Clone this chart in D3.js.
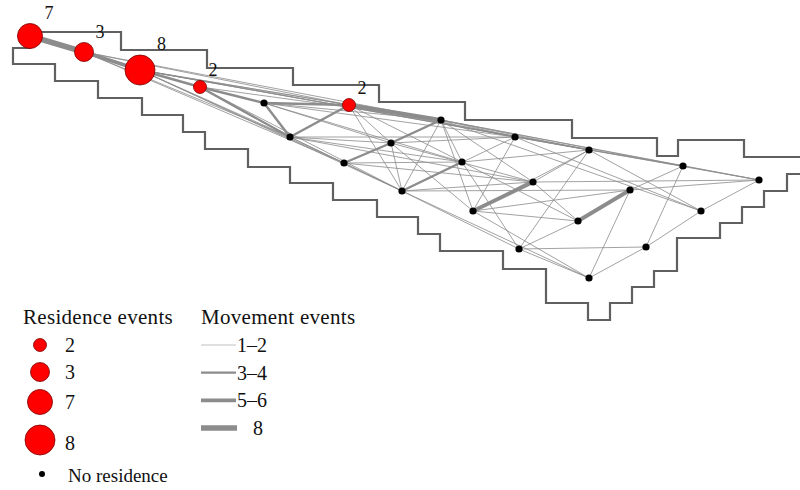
<!DOCTYPE html>
<html>
<head>
<meta charset="utf-8">
<style>
     body {
          margin: 0;
          background: #fff;
     }
     svg {
          display: block;
     }
     .outline {
          fill: none;
          stroke: #606060;
          stroke-width: 2.2;
     }
     .edge {
          stroke: #8c8c8c;
          stroke-linecap: butt;
     }
     .res {
          fill: #ff0000;
          stroke: #7a0000;
          stroke-width: 0.8;
     }
     .nores {
          fill: #000;
     }
</style>
</head>
<body>
<script src="https://cdn.jsdelivr.net/npm/d3@7"></script>
<script>

     // region outline (map units), staircase boundary
     var outlineX = [13, 30, 30, 121, 121, 207, 207, 293, 293, 379, 379, 465, 465, 572, 572, 657, 657, 678, 678, 744, 744, 815,
                     815, 787, 787, 764, 764, 742, 742, 720, 720, 677, 677, 654, 654, 632, 632, 610, 610, 588, 588, 546, 546,
                     503, 503, 440, 440, 418, 418, 377, 377, 333, 333, 290, 290, 248, 248, 205, 205, 183, 183, 142, 142, 98,
                     98, 55, 55, 13];
     var outlineY = [48, 48, 32, 32, 50, 50, 68, 68, 85, 85, 102, 102, 120, 120, 138, 138, 156, 156, 140, 140, 157, 157,
                     174, 174, 191, 191, 207, 207, 223, 223, 238, 238, 271, 271, 287, 287, 303, 303, 320, 320, 303, 303, 269,
                     269, 251, 251, 234, 234, 217, 217, 200, 200, 183, 183, 167, 167, 149, 149, 132, 132, 115, 115, 98, 98,
                     81, 81, 64, 64];

     // sites
     var nodeIds = ["r7", "r3", "r8", "r2a", "r2b", "a", "b", "c", "d", "e", "f", "g", "h", "i", "j", "k", "l", "m", "n", "o", "p", "q", "r", "s"];
     var nodeX = [30, 84, 140, 200, 349, 264, 290, 344, 391, 441, 515, 589, 683, 759, 462, 402, 533, 473, 630, 578, 701, 519, 646, 589];
     var nodeY = [36, 52, 70, 87, 105, 103, 137, 163, 143, 120, 137, 150, 166, 180, 162, 191, 182, 211, 190, 221, 211, 249, 247, 278];
     var residence = [7, 3, 8, 2, 2, 0, 0, 0, 0, 0, 0, 0, 0, 0, 0, 0, 0, 0, 0, 0, 0, 0, 0, 0];

     // movement events between sites
     var edgeFrom = ["r7", "r3", "r8", "r2a", "a", "r2b", "a", "b", "d", "c", "k", "m", "o", "r2a",
                     "r7", "r3", "r3", "r8", "r8", "r8", "r8", "r8", "r3", "r8", "r8", "r3", "r8", "r2a", "r2a",
                     "a", "a", "a", "a", "b", "b", "b", "b", "b", "b", "r2b", "r2b", "r2b", "r2b", "r2b",
                     "c", "c", "c", "d", "d", "d", "d", "e", "e", "e", "e", "e", "e", "e", "e",
                     "f", "f", "f", "f", "j", "j", "j", "k", "k", "k", "k", "m", "m", "m", "m",
                     "l", "l", "l", "q", "q", "q", "q", "s", "s", "r", "r", "p", "g", "n", "n", "g", "h", "e"];
     var edgeTo   = ["r3", "r8", "r2a", "a", "r2b", "e", "b", "r2b", "e", "d", "j", "l", "n", "b",
                     "r8", "e", "r2b", "r2b", "e", "g", "h", "i", "b", "b", "c", "c", "k", "k", "e",
                     "d", "e", "j", "f", "c", "d", "j", "f", "k", "l", "d", "j", "k", "f", "g",
                     "j", "k", "l", "k", "m", "l", "f", "j", "k", "m", "l", "f", "g", "h", "i",
                     "k", "m", "g", "p", "o", "q", "g", "l", "n", "q", "s", "o", "n", "s", "g",
                     "i", "g", "o", "r", "s", "o", "g", "r", "n", "h", "p", "i", "p", "h", "i", "h", "i", "p"];
     var edgeCount = [8, 6, 4, 4, 3, 5, 4, 4, 4, 3, 4, 6, 6, 3,
                      2, 1, 1, 2, 1, 1, 1, 1, 1, 1, 1, 1, 1, 1, 1,
                      1, 1, 1, 1, 1, 2, 1, 1, 1, 1, 1, 1, 1, 1, 2,
                      1, 1, 1, 1, 1, 1, 1, 1, 1, 1, 1, 2, 1, 1, 1,
                      1, 1, 1, 1, 1, 1, 1, 1, 1, 1, 1, 1, 2, 1, 1,
                      1, 1, 1, 1, 1, 1, 1, 1, 1, 1, 1, 1, 1, 1, 1, 2, 1, 1];

     // legend categories
     var residenceLegend = [2, 3, 7, 8];
     var movementLegend = ["1\u20132", "3\u20134", "5\u20136", "8"];
     var movementLegendValue = [2, 4, 6, 8];

     var serif = "'Liberation Serif', 'Times New Roman', serif";

     var width = 800, height = 490;

     var x = d3.scaleLinear().domain([0, 800]).range([0, width]);
     var y = d3.scaleLinear().domain([0, 490]).range([0, height]);

     var radius = d3.scaleOrdinal()
          .domain(residenceLegend)
          .range([6.5, 9.5, 12.5, 15]);

     var strokeW = d3.scaleThreshold()
          .domain([3, 5, 7])
          .range([0.9, 2.4, 3.8, 5.5]);

     var nodes = nodeIds.map(function(id, i) {
          return {id: id, x: nodeX[i], y: nodeY[i], res: residence[i]};
     });
     var byId = {};
     nodes.forEach(function(n) { byId[n.id] = n; });

     var edges = edgeFrom.map(function(f, i) {
          return {source: byId[f], target: byId[edgeTo[i]], count: edgeCount[i]};
     });
     edges.sort(function(a, b) { return a.count - b.count; });

     var svg = d3.select("body").append("svg")
          .attr("width", width)
          .attr("height", height)
          .style("font-family", serif)
          .attr("fill", "#111");

     var outline = outlineX.map(function(v, i) { return [x(v), y(outlineY[i])]; });

     svg.append("path")
          .attr("class", "outline")
          .attr("d", d3.line()(outline) + "Z");

     svg.append("g").selectAll("line")
          .data(edges)
       .enter().append("line")
          .attr("class", "edge")
          .attr("x1", function(d) { return x(d.source.x); })
          .attr("y1", function(d) { return y(d.source.y); })
          .attr("x2", function(d) { return x(d.target.x); })
          .attr("y2", function(d) { return y(d.target.y); })
          .attr("stroke-width", function(d) { return strokeW(d.count); })
          .attr("stroke-opacity", function(d) { return d.count < 3 ? 0.9 : 1; });

     svg.append("g").selectAll("circle")
          .data(nodes.filter(function(d) { return d.res == 0; }))
       .enter().append("circle")
          .attr("class", "nores")
          .attr("cx", function(d) { return x(d.x); })
          .attr("cy", function(d) { return y(d.y); })
          .attr("r", 3.6);

     var resNodes = nodes.filter(function(d) { return d.res > 0; });

     svg.append("g").selectAll("circle")
          .data(resNodes)
       .enter().append("circle")
          .attr("class", "res")
          .attr("cx", function(d) { return x(d.x); })
          .attr("cy", function(d) { return y(d.y); })
          .attr("r", function(d) { return radius(d.res); });

     svg.append("g").selectAll("text")
          .data(resNodes)
       .enter().append("text")
          .style("font-family", serif)
          .style("font-size", "18px")
          .attr("x", function(d) { return x(d.x) + radius(d.res) + 2; })
          .attr("y", function(d) { return y(d.y) - radius(d.res) - 5; })
          .text(function(d) { return d.res; });

     // legend: residence
     var legRes = svg.append("g").attr("transform", "translate(23,324)");
     legRes.append("text")
          .style("font-family", serif)
          .style("font-size", "21px")
          .style("letter-spacing", "0.3px")
          .text("Residence events");

     var resY = d3.scaleOrdinal().domain(residenceLegend).range([21, 48, 78, 116]);

     var resItems = legRes.selectAll("g.item")
          .data(residenceLegend)
       .enter().append("g")
          .attr("class", "item")
          .attr("transform", function(d) { return "translate(0," + resY(d) + ")"; });
     resItems.append("circle")
          .attr("class", "res")
          .attr("cx", 17)
          .attr("cy", 0)
          .attr("r", function(d) { return radius(d); });
     resItems.append("text")
          .style("font-family", serif)
          .style("font-size", "20px")
          .attr("x", 42)
          .attr("y", function(d, i) { return i == 3 ? 10 : 7; })
          .text(function(d) { return d; });

     legRes.append("circle")
          .attr("class", "nores")
          .attr("cx", 19)
          .attr("cy", 150)
          .attr("r", 3);
     legRes.append("text")
          .style("font-family", serif)
          .style("font-size", "19px")
          .attr("x", 45)
          .attr("y", 158)
          .text("No residence");

     // legend: movement
     var legMov = svg.append("g").attr("transform", "translate(201,324)");
     legMov.append("text")
          .style("font-family", serif)
          .style("font-size", "21px")
          .style("letter-spacing", "0.3px")
          .text("Movement events");

     var movY = d3.scalePoint().domain(movementLegend).range([21, 104]);

     var movItems = legMov.selectAll("g.item")
          .data(movementLegend)
       .enter().append("g")
          .attr("class", "item")
          .attr("transform", function(d) { return "translate(0," + movY(d) + ")"; });
     movItems.append("line")
          .attr("class", "edge")
          .attr("x1", 0)
          .attr("x2", function(d, i) { return i == 3 ? 36 : 35; })
          .attr("y1", 0)
          .attr("y2", 0)
          .attr("stroke-width", function(d, i) { return strokeW(movementLegendValue[i]); })
          .attr("stroke-opacity", function(d, i) { return i == 0 ? 0.6 : 1; });
     movItems.append("text")
          .style("font-family", serif)
          .style("font-size", "20px")
          .attr("x", function(d, i) { return i == 3 ? 52 : 36; })
          .attr("y", 7)
          .text(function(d) { return d; });

</script>
</body>
</html>
